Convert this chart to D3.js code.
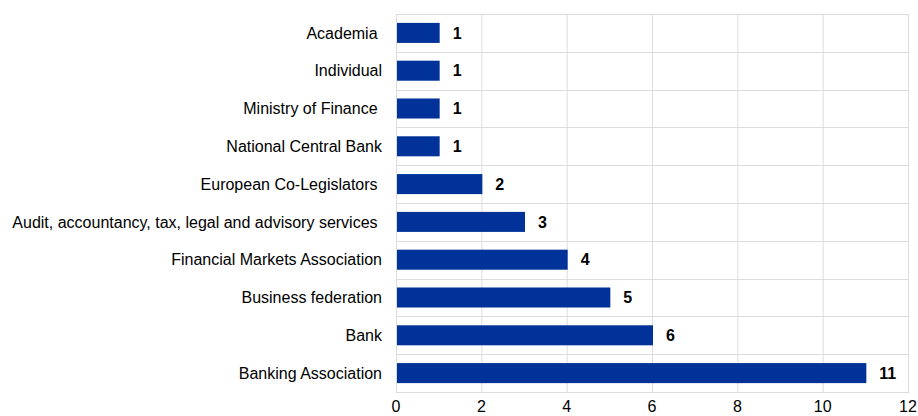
<!DOCTYPE html>
<html>
<head>
<meta charset="utf-8">
<script src="https://cdn.jsdelivr.net/npm/d3@7"></script>
<style>
  body { margin: 0; background: #fff; }
  text { font-family: "Liberation Sans", Arial, sans-serif; }
</style>
</head>
<body>
<div id="chart"></div>
<script>
const width = 918,
      height = 416;

// categories top to bottom (trailing spaces kept as in the original labels)
const categories = [
  'Academia ',
  'Individual',
  'Ministry of Finance ',
  'National Central Bank',
  'European Co-Legislators ',
  'Audit, accountancy, tax, legal and advisory services ',
  'Financial Markets Association',
  'Business federation',
  'Bank',
  'Banking Association'
];
const counts = [1, 1, 1, 1, 2, 3, 4, 5, 6, 11];
const xTicks = [0, 2, 4, 6, 8, 10, 12];

const margin = {top: 14, right: 10, bottom: 24, left: 396};
const data = categories.map((c, i) => ({cat: c, val: counts[i]}));

const svg = d3.select('#chart').append('svg')
  .attr('width', width)
  .attr('height', height);

const x = d3.scaleLinear()
  .domain([0, 12])
  .range([margin.left, width - margin.right]);

const y = d3.scaleBand()
  .domain(categories)
  .range([margin.top, height - margin.bottom])
  .paddingInner(0.47)
  .paddingOuter(0.235);

// bands for horizontal gridlines
const band = d3.scaleBand()
  .domain(categories)
  .range([margin.top, height - margin.bottom]);

const grid = svg.append('g');

// vertical gridlines
grid.selectAll('line.v')
  .data(xTicks)
  .join('line')
  .attr('class', 'v')
  .attr('x1', d => x(d) + 0.5).attr('x2', d => x(d) + 0.5)
  .attr('y1', margin.top).attr('y2', height - margin.bottom)
  .attr('stroke', '#dcdcdc');

// horizontal gridlines
const hLines = categories.map(c => band(c)).concat([height - margin.bottom]);
grid.selectAll('line.h')
  .data(hLines)
  .join('line')
  .attr('class', 'h')
  .attr('x1', x(0)).attr('x2', x(12) + 1)
  .attr('y1', d => Math.round(d) + 0.5).attr('y2', d => Math.round(d) + 0.5)
  .attr('stroke', '#dcdcdc');

// bars
svg.append('g').selectAll('rect')
  .data(data)
  .join('rect')
  .attr('x', x(0) + 1)
  .attr('y', d => y(d.cat))
  .attr('width', d => x(d.val) - x(0))
  .attr('height', y.bandwidth())
  .attr('fill', '#003299');

// value labels
svg.append('g').selectAll('text')
  .data(data)
  .join('text')
  .attr('x', d => x(d.val) + 14)
  .attr('y', d => y(d.cat) + y.bandwidth() / 2)
  .attr('dy', '0.35em')
  .attr('font-size', 16)
  .attr('font-weight', 'bold')
  .attr('fill', '#000')
  .text(d => d.val);

// category labels
svg.append('g').selectAll('text')
  .data(data)
  .join('text')
  .attr('x', 382)
  .attr('y', d => y(d.cat) + y.bandwidth() / 2)
  .attr('dy', '0.35em')
  .attr('text-anchor', 'end')
  .attr('font-size', 16)
  .attr('fill', '#000')
  .style('white-space', 'pre')
  .text(d => d.cat);

// x axis tick labels
svg.append('g').selectAll('text')
  .data(xTicks)
  .join('text')
  .attr('x', d => x(d))
  .attr('y', 406)
  .attr('dy', '0.35em')
  .attr('text-anchor', 'middle')
  .attr('font-size', 16)
  .attr('fill', '#000')
  .text(d => d);
</script>
</body>
</html>
